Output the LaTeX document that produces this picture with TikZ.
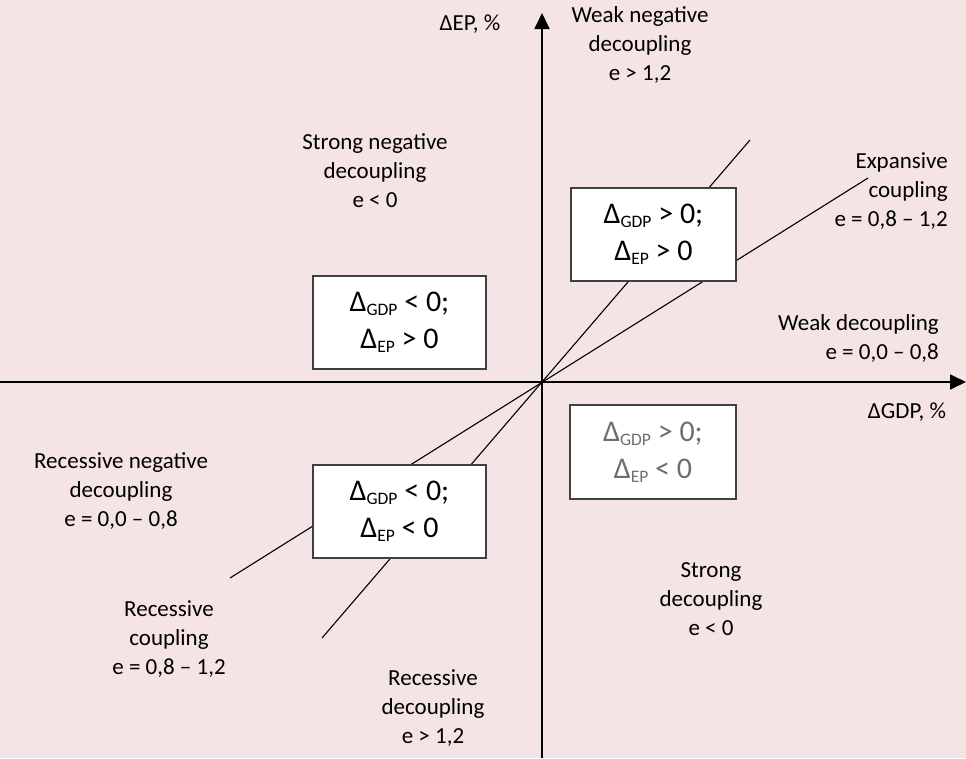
\documentclass[tikz,border=0pt]{standalone}
\usepackage{fontspec}
\setmainfont{Carlito}
\usetikzlibrary{arrows.meta}
\definecolor{bgpink}{RGB}{244,228,229}
\definecolor{boxline}{RGB}{64,64,64}
\definecolor{graytext}{RGB}{110,110,110}
\newcommand\sbt[1]{\raisebox{-0.3ex}{\fontsize{17.5}{17.5}\selectfont #1}}
\tikzset{
  lbl/.style={align=center, font=\fontsize{23}{29}\selectfont, inner sep=0pt},
  qbox/.style={draw=boxline, line width=1.6pt, fill=white, align=center,
    font=\fontsize{30}{37}\selectfont, inner sep=0pt},
  axis/.style={line width=1.8pt, -{Triangle[length=16pt,width=15pt]}},
  diag/.style={line width=1.1pt}
}
\begin{document}
\begin{tikzpicture}[x=1pt,y=-1pt]
\fill[bgpink] (0,0) rectangle (966,758);
\useasboundingbox (0,0) rectangle (966,758);
% diagonal lines
\coordinate (s1) at (322,638);
\coordinate (s2) at (750,140);
\coordinate (w1) at (230,578);
\coordinate (w2) at (868,178);
\draw[diag] (s1) -- (s2);
\draw[diag] (w1) -- (w2);
% axes
\coordinate (vb) at (542,758);
\coordinate (vt) at (542,13);
\coordinate (hl) at (0,382);
\coordinate (hr) at (966,382);
\draw[axis] (vb) -- (vt);
\draw[axis] (hl) -- (hr);
% boxes
\node[qbox, minimum width=165pt, minimum height=93pt] (b1) at (653.5,234.5)
  {Δ\sbt{GDP} > 0;\\Δ\sbt{EP} > 0};
\node[qbox, minimum width=173pt, minimum height=93pt] (b2) at (399.5,322.5)
  {Δ\sbt{GDP} < 0;\\Δ\sbt{EP} > 0};
\node[qbox, minimum width=166pt, minimum height=94pt, text=graytext] (b3) at (653,452)
  {Δ\sbt{GDP} > 0;\\Δ\sbt{EP} < 0};
\node[qbox, minimum width=173pt, minimum height=93pt] (b4) at (399.5,511.5)
  {Δ\sbt{GDP} < 0;\\Δ\sbt{EP} < 0};
% labels
\node[lbl] (yl) at (470,24) {ΔEP, \%};
\node[lbl] (xl) at (907,412) {ΔGDP, \%};
\node[lbl] (wnd) at (640,45) {Weak negative\\decoupling\\e > 1,2};
\node[lbl] (snd) at (375,171) {Strong negative\\decoupling\\e < 0};
\node[lbl, anchor=east, align=right] (ec) at (948,191) {Expansive\\coupling\\e = 0,8 – 1,2};
\node[lbl, anchor=east, align=right] (wd) at (939,338) {Weak decoupling\\e = 0,0 – 0,8};
\node[lbl] (rnd) at (121,491) {Recessive negative\\decoupling\\e = 0,0 – 0,8};
\node[lbl] (rc) at (169,639) {Recessive\\coupling\\e = 0,8 – 1,2};
\node[lbl] (rd) at (433,708) {Recessive\\decoupling\\e > 1,2};
\node[lbl] (sd) at (711,599) {Strong\\decoupling\\e < 0};
\end{tikzpicture}
\end{document}
